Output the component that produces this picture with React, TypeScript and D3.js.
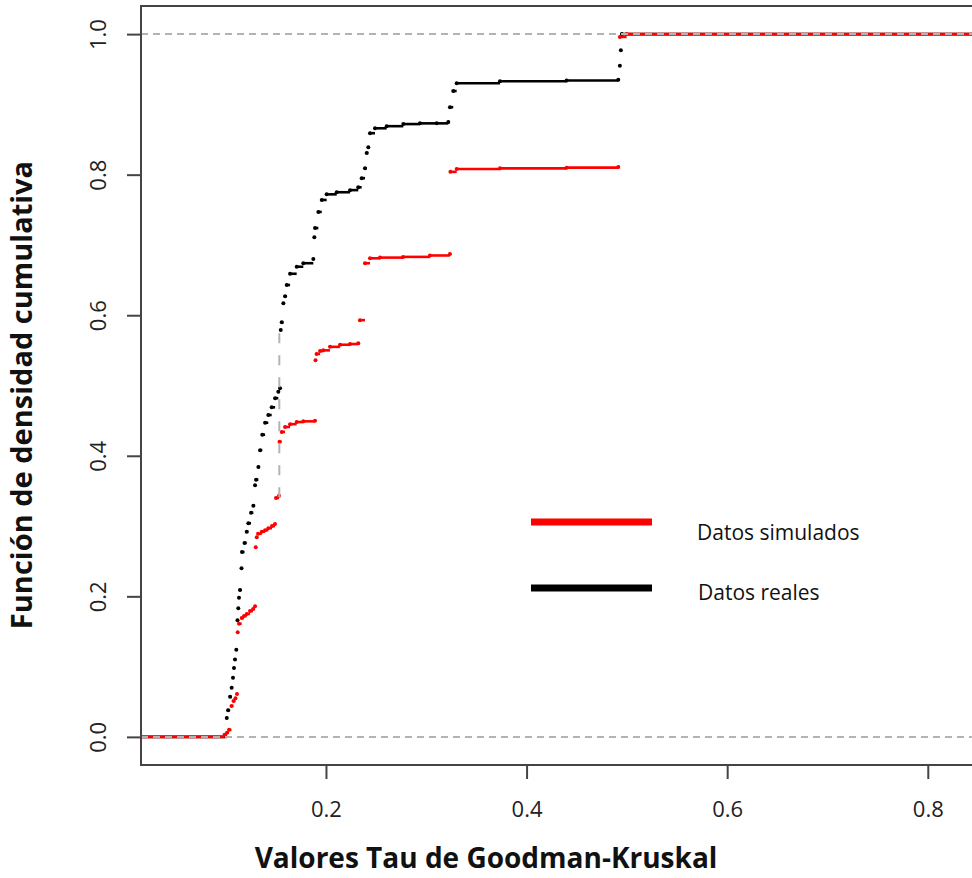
import React, { useRef, useEffect } from 'react';
import * as d3 from 'd3';

// ECDF jump points: [tau value, cumulative density]
const realX = [0.1011, 0.1024, 0.1044, 0.1060, 0.1073, 0.1083, 0.1093, 0.1106, 0.1118, 0.1126, 0.1133, 0.1143, 0.1158, 0.1163, 0.1188, 0.1210, 0.1226, 0.1253, 0.1276, 0.1293, 0.1303, 0.1326, 0.1343, 0.1365, 0.1393, 0.1425, 0.1459, 0.1493, 0.1525, 0.1542, 0.1549, 0.1559, 0.1575, 0.1592, 0.1609, 0.1642, 0.1708, 0.1774, 0.1874, 0.1884, 0.1891, 0.1924, 0.1958, 0.2007, 0.2107, 0.2240, 0.2322, 0.2356, 0.2389, 0.2406, 0.2422, 0.2439, 0.2489, 0.2605, 0.2771, 0.2937, 0.3104, 0.3219, 0.3236, 0.3269, 0.3303, 0.3735, 0.4399, 0.4914, 0.4930, 0.4940, 0.4950]
const realY = [0.027, 0.038, 0.057, 0.070, 0.084, 0.098, 0.110, 0.124, 0.166, 0.183, 0.198, 0.209, 0.240, 0.263, 0.276, 0.292, 0.304, 0.319, 0.329, 0.358, 0.366, 0.384, 0.408, 0.430, 0.447, 0.458, 0.469, 0.482, 0.491, 0.496, 0.579, 0.590, 0.617, 0.627, 0.643, 0.659, 0.669, 0.674, 0.680, 0.711, 0.724, 0.747, 0.764, 0.772, 0.775, 0.778, 0.782, 0.795, 0.809, 0.831, 0.839, 0.859, 0.866, 0.869, 0.872, 0.873, 0.873, 0.875, 0.896, 0.919, 0.930, 0.933, 0.934, 0.935, 0.955, 0.977, 1.0]

const simX = [0.0989, 0.1014, 0.1034, 0.1058, 0.1078, 0.1098, 0.1113, 0.1120, 0.1133, 0.1160, 0.1183, 0.1210, 0.1243, 0.1273, 0.1293, 0.1300, 0.1310, 0.1323, 0.1360, 0.1393, 0.1425, 0.1462, 0.1492, 0.1502, 0.1532, 0.1537, 0.1559, 0.1592, 0.1642, 0.1708, 0.1774, 0.1891, 0.1896, 0.1906, 0.1941, 0.1973, 0.2040, 0.2140, 0.2240, 0.2322, 0.2339, 0.2389, 0.2439, 0.2539, 0.2768, 0.3037, 0.3236, 0.3241, 0.3303, 0.3735, 0.4399, 0.4914, 0.4930, 0.4997]
const simY = [0.003, 0.006, 0.010, 0.044, 0.051, 0.055, 0.061, 0.149, 0.161, 0.169, 0.172, 0.175, 0.179, 0.182, 0.186, 0.270, 0.284, 0.289, 0.292, 0.294, 0.297, 0.300, 0.303, 0.340, 0.343, 0.420, 0.434, 0.441, 0.445, 0.448, 0.449, 0.450, 0.536, 0.545, 0.549, 0.550, 0.555, 0.558, 0.559, 0.560, 0.593, 0.674, 0.681, 0.682, 0.683, 0.685, 0.687, 0.804, 0.808, 0.809, 0.810, 0.811, 0.996, 1.0]

// grey dashed vertical seen at tau ~0.154
const gapX = [0.1535, 0.1535]
const gapY = [0.341, 0.576]

const xTicks = [0.2, 0.4, 0.6, 0.8]
const yTicks = [0.0, 0.2, 0.4, 0.6, 0.8, 1.0]
const seriesNames = ['Datos simulados', 'Datos reales']
const seriesColors = ['#ff0000', '#000000']

const App = () => {
  const d3Chart = useRef(null)

  useEffect(() => {
    const width = 972
    const height = 878
    const svg = d3.select(d3Chart.current)
      .attr('width', width)
      .attr('height', height)
    svg.selectAll('*').remove()

    const left = 141, top = 6, bottom = 765, right = 998
    const x = d3.scaleLinear().domain([0.0156, 0.87]).range([left, right])
    const y = d3.scaleLinear().domain([-0.04, 1.04]).range([bottom, top])

    const font = "'Open Sans', 'DejaVu Sans', sans-serif"
    const axisColor = '#444'

    // ECDF step functions: horizontal segments + points, no verticals
    const drawEcdf = (xs, ys, color) => {
      const pts = xs.map((v, i) => [v, ys[i]])
      const g = svg.append('g')
      const segs = []
      segs.push([x.domain()[0], pts[0][0], 0])
      pts.forEach((p, i) => {
        const next = i < pts.length - 1 ? pts[i + 1][0] : x.domain()[1]
        segs.push([p[0], next, p[1]])
      })
      g.selectAll('line').data(segs).enter().append('line')
        .attr('x1', d => x(d[0]))
        .attr('x2', d => x(d[1]))
        .attr('y1', d => y(d[2]))
        .attr('y2', d => y(d[2]))
        .attr('stroke', color)
        .attr('stroke-width', 2.6)
      g.selectAll('circle').data(pts).enter().append('circle')
        .attr('cx', d => x(d[0]))
        .attr('cy', d => y(d[1]))
        .attr('r', 2)
        .attr('fill', color)
    }

    drawEcdf(realX, realY, seriesColors[1])
    drawEcdf(simX, simY, seriesColors[0])

    // grey dashed reference lines at 0 and 1
    ;[0, 1].forEach(v => {
      svg.append('line')
        .attr('x1', left).attr('x2', right)
        .attr('y1', y(v)).attr('y2', y(v))
        .attr('stroke', '#b3b3b3')
        .attr('stroke-width', 2)
        .attr('stroke-dasharray', '7,5')
    })
    svg.append('line')
      .attr('x1', x(gapX[0])).attr('x2', x(gapX[1]))
      .attr('y1', y(gapY[0])).attr('y2', y(gapY[1]))
      .attr('stroke', '#b3b3b3')
      .attr('stroke-width', 2)
      .attr('stroke-dasharray', '10,12')

    // box
    svg.append('rect')
      .attr('x', left).attr('y', top)
      .attr('width', right - left).attr('height', bottom - top)
      .attr('fill', 'none')
      .attr('stroke', axisColor)
      .attr('stroke-width', 2)

    // x axis
    const xa = svg.append('g').attr('transform', 'translate(0,' + bottom + ')')
      .call(d3.axisBottom(x).tickValues(xTicks).tickSize(14).tickSizeOuter(0).tickPadding(22).tickFormat(d3.format('.1f')))
    xa.select('.domain').remove()
    xa.selectAll('line').attr('stroke', axisColor).attr('stroke-width', 2)
    xa.selectAll('text').attr('font-size', 22).attr('font-family', font).attr('fill', '#222')

    // y axis, labels rotated like R
    const ya = svg.append('g').attr('transform', 'translate(' + left + ',0)')
      .call(d3.axisLeft(y).tickValues(yTicks).tickSize(14).tickSizeOuter(0).tickFormat(d3.format('.1f')))
    ya.select('.domain').remove()
    ya.selectAll('line').attr('stroke', axisColor).attr('stroke-width', 2)
    ya.selectAll('text')
      .attr('x', 0).attr('dy', 0)
      .attr('transform', 'translate(-44,0) rotate(-90)')
      .attr('text-anchor', 'middle')
      .attr('dominant-baseline', 'central')
      .attr('font-size', 22).attr('font-family', font).attr('fill', '#222')

    // axis titles
    svg.append('text')
      .attr('x', 486).attr('y', 868)
      .attr('text-anchor', 'middle')
      .attr('font-family', font).attr('font-weight', 'bold').attr('font-size', 28)
      .attr('fill', '#111')
      .text('Valores Tau de Goodman-Kruskal')
    svg.append('text')
      .attr('transform', 'translate(32,395) rotate(-90)')
      .attr('text-anchor', 'middle')
      .attr('font-family', font).attr('font-weight', 'bold').attr('font-size', 29)
      .attr('fill', '#111')
      .text('Función de densidad cumulativa')

    // legend
    const lg = svg.append('g')
    seriesNames.forEach((name, i) => {
      const ly = 522 + i * 66
      lg.append('line')
        .attr('x1', 531).attr('x2', 652)
        .attr('y1', ly).attr('y2', ly)
        .attr('stroke', seriesColors[i])
        .attr('stroke-width', 7)
      lg.append('text')
        .attr('x', 697 + i).attr('y', ly + 18 - i * 6)
        .attr('font-family', font).attr('font-size', 21)
        .attr('fill', '#111')
        .text(name)
    })
  }, [])

  return (
    <div style={{ position: 'absolute', left: 0, top: 0 }}>
      <svg ref={d3Chart}></svg>
    </div>
  )
}

export default App
